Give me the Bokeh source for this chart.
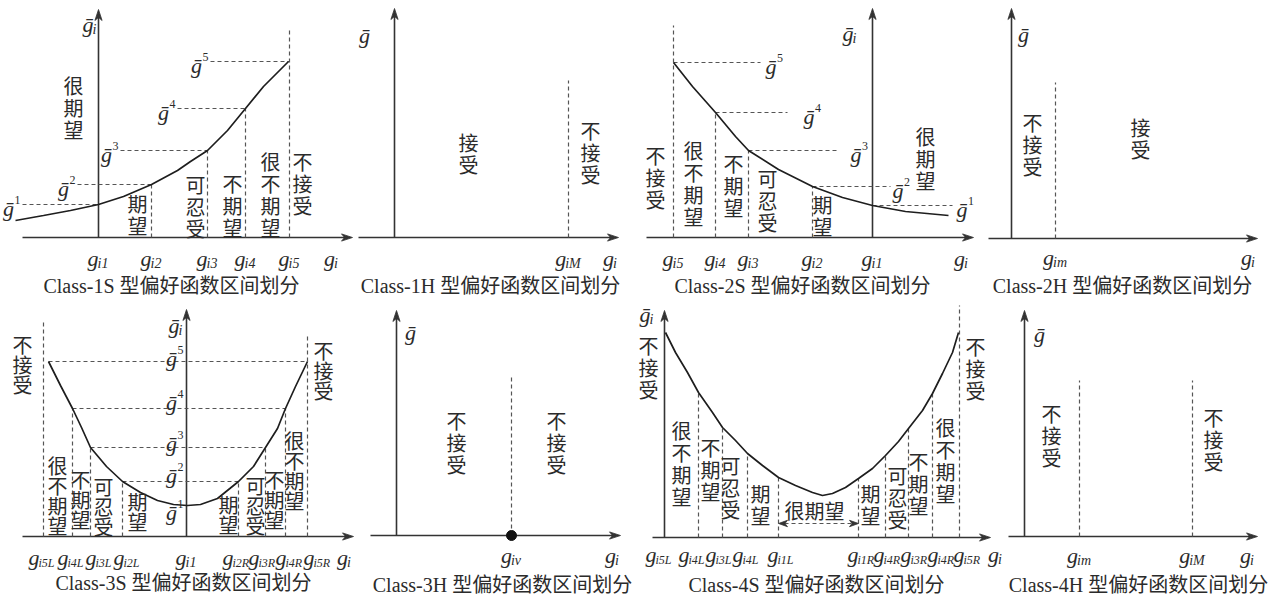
import numpy as np
from bokeh.plotting import figure
from bokeh.layouts import row, column
from bokeh.models import Range1d
from bokeh.core.properties import value
from bokeh.embed import file_html
from bokeh.resources import INLINE

# ===================== data (schematic values) =====================
# Class-1S : increasing preference function
c1s_g = [0, 53, 109, 147, 191]                      # g_i1 .. g_i5
c1s_gbar = [33, 53, 87, 129, 176]                   # g-bar^1 .. g-bar^5
c1s_curve_x = [-83, -55, -28, 0, 25, 53, 79, 92, 109, 129, 147, 165, 190]
c1s_curve_y = [17, 22, 27, 33, 41, 53, 67, 76, 87, 107, 129, 151, 176]
c1s_ticks = ["i1", "i2", "i3", "i4", "i5"]
c1s_regions = ["很期望", "期望", "可忍受", "不期望", "很不期望", "不接受"]

# Class-1H
c1h_gM = 174
c1h_regions = ["接受", "不接受"]

# Class-2S : decreasing preference function
c2s_g = [0, -60, -124, -157, -199]                  # g_i1 .. g_i5
c2s_gbar = [32, 51, 87, 125, 175]
c2s_curve_x = [-199, -180, -157, -137, -124, -94, -60, -30, 0, 33, 76]
c2s_curve_y = [175, 151, 125, 101, 87, 68, 51, 40, 32, 26, 22]
c2s_ticks = ["i1", "i2", "i3", "i4", "i5"]
c2s_regions = ["很期望", "期望", "可忍受", "不期望", "很不期望", "不接受"]

# Class-2H
c2h_gm = 44
c2h_regions = ["不接受", "接受"]

# Class-3S : U-shaped (target value)
c3s_gL = [0, -64, -96, -114, -143]                  # g_i1, g_i2L .. g_i5L
c3s_gR = [0, 52, 79, 99, 121]                       # g_i1, g_i2R .. g_i5R
c3s_gbar = [31, 55, 89, 128, 175]
c3s_curve_x = [-138, -126, -114, -105, -96, -80, -64, -46, -29, -13, 1,
               14, 31, 52, 67, 79, 91, 99, 109, 121]
c3s_curve_y = [175, 151, 128, 109, 89, 70, 55, 44, 36, 32, 31,
               32, 38, 55, 70, 89, 108, 128, 150, 175]
c3s_ticks_L = ["i5L", "i4L", "i3L", "i2L"]
c3s_ticks_R = ["i2R", "i3R", "i4R", "i5R"]
c3s_regions_L = ["不接受", "很不期望", "不期望", "可忍受", "期望"]
c3s_regions_R = ["期望", "可忍受", "不期望", "很不期望", "不接受"]

# Class-3H
c3h_gv = 115
c3h_regions = ["不接受", "不接受"]

# Class-4S : U-shaped (target range)
c4s_gL = [114, 83, 58, 34, 0]                       # g_i1L .. g_i5L
c4s_gR = [194, 221, 244, 268, 295]                  # g_i1R .. g_i5R
c4s_curve_x = [1, 11, 23, 34, 48, 58, 71, 83, 98, 114, 131, 148, 158, 168, 181,
               194, 208, 221, 234, 244, 258, 268, 278, 288, 294]
c4s_curve_y = [205, 185, 165, 145, 125, 110, 97, 84, 72, 60, 52, 45, 42, 44, 50,
               59, 69, 82, 96, 109, 127, 144, 164, 185, 205]
c4s_ticks_L = ["i5L", "i4L", "i3L", "i4L", "i1L"]
c4s_ticks_R = ["i1R", "i4R", "i3R", "i4R", "i5R"]
c4s_regions_L = ["不接受", "很不期望", "不期望", "可忍受", "期望"]
c4s_regions_R = ["期望", "可忍受", "不期望", "很不期望", "不接受"]
c4s_center = "很期望"

# Class-4H
c4h_gm, c4h_gM = 55, 168
c4h_regions = ["不接受", "不接受"]

titles = ["Class-1S 型偏好函数区间划分", "Class-1H 型偏好函数区间划分",
          "Class-2S 型偏好函数区间划分", "Class-2H 型偏好函数区间划分",
          "Class-3S 型偏好函数区间划分", "Class-3H 型偏好函数区间划分",
          "Class-4S 型偏好函数区间划分", "Class-4H 型偏好函数区间划分"]

# ===================== styles & helpers =====================
INK = "#2b2b2b"
AX = "#333333"
DSH = "#555555"
SERIF = "Liberation Serif, DejaVu Serif"
CJK = "Noto Sans CJK SC"
TFONT = "Liberation Serif, Noto Sans CJK SC"
GBAR = "\u1e21"
CW = {"i": 0.278, "L": 0.556, "R": 0.611, "M": 0.833, "m": 0.722, "v": 0.444}
LH = 0.75      # vertical CJK label line height (Bokeh multiplies the font's own line box)


def sub_w(s, size):
    return sum(CW.get(c, 0.5) for c in s) * size


def make(px_x, px_y, origin):
    # px_x/px_y: pixel extent of the panel in the window, origin: pixel position of the axes crossing
    ox, oy = origin
    w = px_x[1] - px_x[0]
    h = px_y[1] - px_y[0]
    p = figure(width=w, height=h,
               x_range=Range1d(px_x[0] - ox, px_x[1] - ox),
               y_range=Range1d(oy - px_y[1], oy - px_y[0]),
               x_axis_type=None, y_axis_type=None, toolbar_location=None,
               output_backend="svg", min_border=0, outline_line_color=None)
    p.background_fill_color = "white"
    p.border_fill_color = "white"
    return p


def head(p, tx, ty, ux, uy, L=11.0, W=3.6, color=AX):
    bx, by = tx - L * ux, ty - L * uy
    nx, ny = -uy, ux
    p.patch([tx, bx + W * nx, bx + 0.28 * L * ux, bx - W * nx],
            [ty, by + W * ny, by + 0.28 * L * uy, by - W * ny],
            fill_color=color, line_color=color, line_width=0.8)


def arrow_axis(p, x0, y0, x1, y1):
    dx, dy = x1 - x0, y1 - y0
    n = (dx * dx + dy * dy) ** 0.5
    ux, uy = dx / n, dy / n
    p.line([x0, x1 - 6 * ux], [y0, y1 - 6 * uy], line_color=AX, line_width=1.6)
    head(p, x1, y1, ux, uy)


def dashed(p, x0, y0, x1, y1):
    p.segment(x0=list(x0), y0=list(y0), x1=list(x1), y1=list(y1),
              line_color=DSH, line_width=1.2, line_dash="4 3")


def curve(p, xs, ys):
    p.line(xs, ys, line_color="#1e1e1e", line_width=1.7)


def txt(p, x, y, s, font, size, style="normal", align="center", baseline="alphabetic"):
    p.text(x=[x], y=[y], text=[s], text_font=value(font), text_font_size=f"{size}px",
           text_font_style=style, text_align=align, text_baseline=baseline, text_color=INK)


def glabel(p, x, y, main="g", sub="", sup="", anchor="center", size=22, sub_size=14):
    gw = 0.5 * size
    extra = sub_w(sub, sub_size) if sub else (6.5 * len(sup) if sup else 0)
    total = gw + extra
    left = {"center": x - total / 2, "left": x, "right": x - total}[anchor]
    txt(p, left + gw / 2, y, main, SERIF, size, "italic")
    if sub:
        txt(p, left + gw - 1, y - 5, sub, SERIF, sub_size, "italic", align="left")
    if sup:
        txt(p, left + gw + 0.5, y + 9, sup, SERIF, 12, align="left")


def vlabel(p, x, y, s, size=20, lh=LH):
    p.text(x=[x], y=[y], text=["\n".join(s)], text_font=value(CJK), text_font_size=f"{size}px",
           text_align="center", text_baseline="middle", text_line_height=lh, text_color=INK)


def title(p, x, y, s):
    txt(p, x, y, s, TFONT, 20, baseline="middle")


# ===================== Class-1S =====================
p1 = make((0, 356), (0, 298), (98, 237))
arrow_axis(p1, 0, 0, 0, 228)
arrow_axis(p1, -76, 0, 254, 0)
tops = [float(np.interp(g, c1s_curve_x, c1s_curve_y)) for g in c1s_g[1:4]] + [209]
dashed(p1, c1s_g[1:], [0] * 4, c1s_g[1:], tops)
starts = [-76, -21, 22, 79, 112]
dashed(p1, starts, c1s_gbar, c1s_g, c1s_gbar)
curve(p1, c1s_curve_x, c1s_curve_y)
for k in range(5):
    glabel(p1, starts[k] - 2, c1s_gbar[k] - 4, GBAR, sup=str(k + 1), anchor="right")
for g, s in zip(c1s_g, c1s_ticks):
    glabel(p1, g, -21, "g", sub=s)
glabel(p1, 233, -21, "g", sub="i")
glabel(p1, -1, 213, GBAR, sub="i", anchor="right")
for s, (x, y) in zip(c1s_regions, [(-25, 130), (39, 23), (97, 31), (134, 32), (172, 43), (204, 54)]):
    vlabel(p1, x, y, s)
title(p1, 73, -48, titles[0])

# ===================== Class-1H =====================
p2 = make((356, 640), (0, 298), (394, 237))
arrow_axis(p2, 0, 0, 0, 229)
arrow_axis(p2, -36, 0, 224, 0)
dashed(p2, [c1h_gM], [0], [c1h_gM], [157])
glabel(p2, c1h_gM, -21, "g", sub="iM")
glabel(p2, 216, -21, "g", sub="i")
glabel(p2, -30, 202, GBAR)
for s, (x, y) in zip(c1h_regions, [(74, 84), (196, 85)]):
    vlabel(p2, x, y, s)
title(p2, 96, -48, titles[1])

# ===================== Class-2S =====================
p3 = make((640, 978), (0, 298), (872, 237))
arrow_axis(p3, 0, 0, 0, 229)
arrow_axis(p3, -226, 0, 101, 0)
tops = [float(np.interp(g, c2s_curve_x, c2s_curve_y)) for g in c2s_g[1:4]] + [212]
dashed(p3, c2s_g[1:], [0] * 4, c2s_g[1:], tops)
ends = [80, 18, -34, -85, -112]
dashed(p3, c2s_g, c2s_gbar, ends, c2s_gbar)
curve(p3, c2s_curve_x, c2s_curve_y)
for k, lx in enumerate([84, 20, -22, -69, -107]):
    glabel(p3, lx, c2s_gbar[k] - 4, GBAR, sup=str(k + 1), anchor="left")
for g, s in zip(c2s_g, c2s_ticks):
    glabel(p3, g, -21, "g", sub=s)
glabel(p3, 89, -21, "g", sub="i")
glabel(p3, -15, 204, GBAR, sub="i", anchor="right")
for s, (x, y) in zip(c2s_regions, [(53, 79), (-50, 22), (-105, 37), (-139, 52), (-179, 54), (-217, 60)]):
    vlabel(p3, x, y, s)
title(p3, -70, -48, titles[2])

# ===================== Class-2H =====================
p4 = make((978, 1280), (0, 298), (1011, 238))
arrow_axis(p4, 0, 0, 0, 230)
arrow_axis(p4, -23, 0, 246, 0)
dashed(p4, [c2h_gm], [0], [c2h_gm], [156])
glabel(p4, c2h_gm, -19, "g", sub="im")
glabel(p4, 237, -19, "g", sub="i")
glabel(p4, 12, 204, GBAR)
for s, (x, y) in zip(c2h_regions, [(21, 94), (129, 100)]):
    vlabel(p4, x, y, s)
title(p4, 111, -47, titles[3])

# ===================== Class-3S =====================
p5 = make((0, 358), (298, 596), (186, 536))
arrow_axis(p5, 0, 0, 0, 227)
arrow_axis(p5, -164, 0, 167, 0)
imin = int(np.argmin(c3s_curve_y))
lx_, ly_ = c3s_curve_x[:imin + 1][::-1], c3s_curve_y[:imin + 1][::-1]
rx_, ry_ = c3s_curve_x[imin:], c3s_curve_y[imin:]
vx = c3s_gL[1:4] + c3s_gR[1:4]
vt = [float(np.interp(g, c3s_curve_x, c3s_curve_y)) for g in vx]
dashed(p5, vx + [c3s_gL[4], c3s_gR[4]], [0] * 8, vx + [c3s_gL[4], c3s_gR[4]], vt + [216, 202])
lev = c3s_gbar[1:]
xl = [float(np.interp(v, ly_, lx_)) for v in lev]
xr = [float(np.interp(v, ry_, rx_)) for v in lev]
dashed(p5, xl, lev, xr, lev)
curve(p5, c3s_curve_x, c3s_curve_y)
for k, b in enumerate([24, 61, 93, 134, 178]):
    glabel(p5, -3, b, GBAR, sup=str(k + 1), anchor="right")
for lx, s in zip([-158, -129, -101, -73], c3s_ticks_L):
    glabel(p5, lx, -21, "g", sub=s, anchor="left", sub_size=12)
glabel(p5, 0, -21, "g", sub="i1")
for lx, s in zip([36, 62, 89, 117], c3s_ticks_R):
    glabel(p5, lx, -21, "g", sub=s, anchor="left", sub_size=12)
glabel(p5, 158, -21, "g", sub="i")
glabel(p5, -3, 211, GBAR, sub="i", anchor="right")
for s, (x, y) in zip(c3s_regions_L, [(-164, 172), (-129, 41), (-106, 37), (-83, 30), (-49, 25)]):
    vlabel(p5, x, y, s, lh=0.70)
for s, (x, y) in zip(c3s_regions_R, [(42, 22), (69, 31), (88, 37), (108, 66), (137, 166)]):
    vlabel(p5, x, y, s, lh=0.70)
title(p5, -3, -46, titles[4])

# ===================== Class-3H =====================
p6 = make((358, 636), (298, 596), (396, 535))
arrow_axis(p6, 0, 0, 0, 225)
arrow_axis(p6, -26, 0, 224, 0)
dashed(p6, [c3h_gv], [0], [c3h_gv], [158])
p6.scatter([c3h_gv], [0], size=10, color="#111111")
glabel(p6, c3h_gv, -20, "g", sub="iv")
glabel(p6, 216, -20, "g", sub="i")
glabel(p6, 14, 203, GBAR)
for s, (x, y) in zip(c3h_regions, [(60, 93), (160, 93)]):
    vlabel(p6, x, y, s)
title(p6, 106, -49, titles[5])

# ===================== Class-4S =====================
p7 = make((636, 1006), (298, 596), (664, 537))
arrow_axis(p7, 0, 0, 0, 227)
arrow_axis(p7, -12, 0, 326, 0)
vx = c4s_gL[:4] + c4s_gR[:4]
vt = [float(np.interp(g, c4s_curve_x, c4s_curve_y)) for g in vx]
dashed(p7, vx + [c4s_gR[4]], [0] * 9, vx + [c4s_gR[4]], vt + [232])
curve(p7, c4s_curve_x, c4s_curve_y)
# double arrow for the "very desirable" range
dashed(p7, [c4s_gL[0] + 6], [14], [c4s_gR[0] - 6], [14])
head(p7, c4s_gL[0], 14, -1, 0, L=9, W=3.2, color="#333333")
head(p7, c4s_gR[0], 14, 1, 0, L=9, W=3.2, color="#333333")
txt(p7, 150, 27, c4s_center, CJK, 20, baseline="middle")
for lx, s in zip([-19, 14, 41, 68, 103], c4s_ticks_L):
    glabel(p7, lx, -17, "g", sub=s, anchor="left", sub_size=12)
for lx, s in zip([183, 209, 236, 263, 289], c4s_ticks_R):
    glabel(p7, lx, -17, "g", sub=s, anchor="left", sub_size=12)
glabel(p7, 331, -17, "g", sub="i")
glabel(p7, -10, 223, GBAR, sub="i", anchor="right")
for s, (x, y) in zip(c4s_regions_L, [(-16, 170), (17, 74), (46, 68), (66, 50), (96, 33)]):
    vlabel(p7, x, y, s)
for s, (x, y) in zip(c4s_regions_R, [(206, 33), (233, 40), (254, 54), (281, 77), (311, 169)]):
    vlabel(p7, x, y, s)
title(p7, 152, -47, titles[6])

# ===================== Class-4H =====================
p8 = make((1006, 1280), (298, 596), (1024, 536))
arrow_axis(p8, 0, 0, 0, 226)
arrow_axis(p8, -16, 0, 233, 0)
dashed(p8, [c4h_gm, c4h_gM], [0, 0], [c4h_gm, c4h_gM], [156, 156])
glabel(p8, c4h_gm, -19, "g", sub="im")
glabel(p8, c4h_gM, -19, "g", sub="iM")
glabel(p8, 223, -19, "g", sub="i")
glabel(p8, 15, 202, GBAR)
for s, (x, y) in zip(c4h_regions, [(27, 101), (189, 97)]):
    vlabel(p8, x, y, s)
title(p8, 114, -48, titles[7])

layout = column(row(p1, p2, p3, p4), row(p5, p6, p7, p8))
open("out.html", "w").write(file_html(layout, INLINE, title="偏好函数区间划分"))
